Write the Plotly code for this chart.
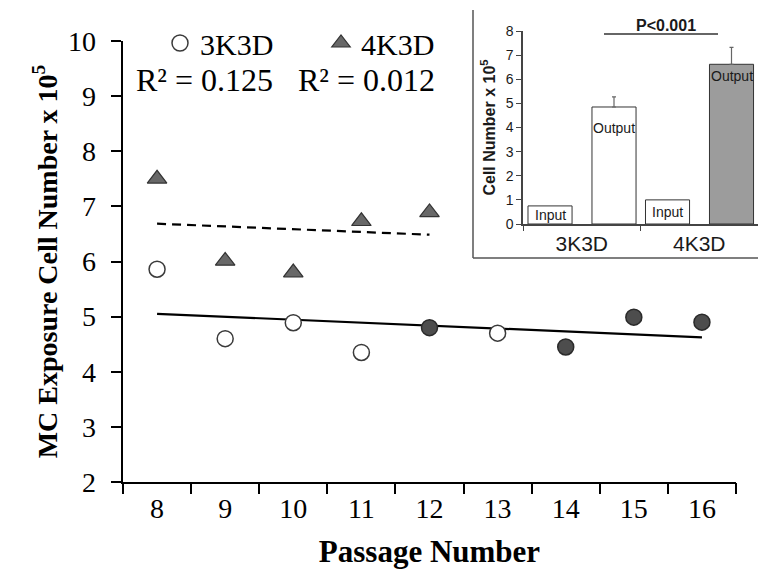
import numpy as np
import plotly.graph_objects as go

# ---------------- data ----------------
passage_3k = [8, 9, 10, 11, 12, 13, 14, 15, 16]
cells_3k = [5.86, 4.60, 4.89, 4.35, 4.80, 4.70, 4.45, 4.99, 4.90]
filled_3k = [False, False, False, False, True, False, True, True, True]

passage_4k = [8, 9, 10, 11, 12]
cells_4k = [7.50, 6.01, 5.80, 6.73, 6.89]

r2_labels = ["R² = 0.125", "R² = 0.012"]

x_ticks = [8, 9, 10, 11, 12, 13, 14, 15, 16]
y_ticks = [2, 3, 4, 5, 6, 7, 8, 9, 10]

inset_groups = ["3K3D", "4K3D"]
inset_input = [0.75, 1.0]
inset_output = [4.85, 6.62]
inset_output_err = [0.42, 0.70]
inset_p_label = "P<0.001"

W, H = 758, 569
SERIF = "Liberation Serif"
SANS = "Liberation Sans"


def px(x):
    return x / W


def py(y):
    return 1 - y / H


fig = go.Figure()

# ---------------- main scatter ----------------
open_x = [x for x, f in zip(passage_3k, filled_3k) if not f]
open_y = [y for y, f in zip(cells_3k, filled_3k) if not f]
full_x = [x for x, f in zip(passage_3k, filled_3k) if f]
full_y = [y for y, f in zip(cells_3k, filled_3k) if f]

# trend lines (least squares fits of the data)
s3, i3 = np.polyfit(passage_3k, cells_3k, 1)
s4, i4 = np.polyfit(passage_4k, cells_4k, 1)
fx3 = [min(passage_3k), max(passage_3k)]
fx4 = [min(passage_4k), max(passage_4k)]

fig.add_trace(go.Scatter(x=fx3, y=[s3 * v + i3 for v in fx3], mode="lines",
                         line=dict(color="black", width=2.2), showlegend=False,
                         xaxis="x", yaxis="y"))
fig.add_trace(go.Scatter(x=fx4, y=[s4 * v + i4 for v in fx4], mode="lines",
                         line=dict(color="black", width=2.2, dash="9px,6px"),
                         showlegend=False, xaxis="x", yaxis="y"))

fig.add_trace(go.Scatter(x=open_x, y=open_y, mode="markers", name="3K3D",
                         marker=dict(symbol="circle", size=16, color="white",
                                     line=dict(color="#3a3a3a", width=1.5)),
                         xaxis="x", yaxis="y"))
fig.add_trace(go.Scatter(x=passage_4k, y=cells_4k, mode="markers", name="4K3D",
                         marker=dict(symbol="triangle-up", size=17, color="#686868",
                                     line=dict(color="#333333", width=1.2)),
                         xaxis="x", yaxis="y"))
fig.add_trace(go.Scatter(x=full_x, y=full_y, mode="markers", name="3K3D filled",
                         showlegend=False,
                         marker=dict(symbol="circle", size=16, color="#4d4d4d",
                                     line=dict(color="#2a2a2a", width=1.5)),
                         xaxis="x", yaxis="y"))
# invisible carrier traces so the overlay axes (tick marks / tick labels) are drawn
fig.add_trace(go.Scatter(x=passage_3k, y=cells_3k, mode="none", showlegend=False,
                         hoverinfo="skip", xaxis="x3", yaxis="y"))
fig.add_trace(go.Scatter(x=passage_3k, y=cells_3k, mode="none", showlegend=False,
                         hoverinfo="skip", xaxis="x", yaxis="y3"))

# ---------------- inset bars ----------------
bar_w = 0.375
fig.add_trace(go.Bar(x=inset_groups, y=inset_input, width=bar_w, offset=-0.4575,
                     marker=dict(color="white", line=dict(color="#333333", width=1)),
                     showlegend=False, xaxis="x2", yaxis="y2"))
fig.add_trace(go.Bar(x=inset_groups, y=inset_output, width=bar_w, offset=0.087,
                     marker=dict(color=["white", "#9c9c9c"],
                                 line=dict(color="#333333", width=1)),
                     error_y=dict(type="data", symmetric=False, array=inset_output_err,
                                  arrayminus=[0, 0], color="#666666", thickness=1.2,
                                  width=2),
                     showlegend=False, xaxis="x2", yaxis="y2"))

annotations = []
for i, g in enumerate(inset_groups):
    annotations.append(dict(x=i - 0.4575 + bar_w / 2, y=inset_input[i] / 2, xref="x2", yref="y2",
                            text="Input", showarrow=False, xanchor="center", yanchor="middle",
                            font=dict(family=SANS, size=14, color="#1a1a1a")))
    annotations.append(dict(x=i + 0.087 + bar_w / 2, y=inset_output[i], xref="x2", yref="y2",
                            text="Output", showarrow=False, yshift=[-21, -12][i],
                            xanchor="center", yanchor="middle",
                            font=dict(family=SANS, size=14, color="#1a1a1a")))

annotations.append(dict(x=px(666), y=py(25), xref="paper", yref="paper",
                        text="<b>%s</b>" % inset_p_label, xanchor="center", yanchor="middle",
                        showarrow=False, font=dict(family=SANS, size=16, color="#1a1a1a")))

# R² labels
annotations.append(dict(x=px(204), y=py(80), xref="paper", yref="paper", text=r2_labels[0],
                        xanchor="center", yanchor="middle",
                        showarrow=False, font=dict(family=SERIF, size=32, color="black")))
annotations.append(dict(x=px(366), y=py(80), xref="paper", yref="paper", text=r2_labels[1],
                        xanchor="center", yanchor="middle",
                        showarrow=False, font=dict(family=SERIF, size=32, color="black")))

shapes = [
    # inset frame (left and bottom)
    dict(type="line", xref="paper", yref="paper", x0=px(473), x1=px(473), y0=py(10), y1=py(258),
         line=dict(color="#555555", width=1.5)),
    dict(type="line", xref="paper", yref="paper", x0=px(473), x1=1.0, y0=py(258), y1=py(258),
         line=dict(color="#555555", width=1.5)),
    # significance bar
    dict(type="line", xref="paper", yref="paper", x0=px(604), x1=px(718), y0=py(34), y1=py(34),
         line=dict(color="#333333", width=1.3)),
]

X_DOM = [px(123), px(736)]
Y_DOM = [py(482), py(41)]
X_RANGE = [7.5, 16.5]
Y_RANGE = [2, 10]
half_ticks = [v - 0.5 for v in x_ticks] + [x_ticks[-1] + 0.5]

fig.update_layout(
    template="none",
    width=W, height=H,
    margin=dict(l=0, r=0, t=0, b=0),
    paper_bgcolor="white", plot_bgcolor="white",
    font=dict(family=SERIF, color="black"),
    barmode="overlay",
    showlegend=True,
    legend=dict(orientation="h", x=px(160), y=py(17), xanchor="left", yanchor="top",
                font=dict(family=SERIF, size=30, color="black"),
                entrywidth=116, entrywidthmode="pixels", bgcolor="rgba(0,0,0,0)",
                itemwidth=30, tracegroupgap=0),
    xaxis=dict(domain=X_DOM, range=X_RANGE, anchor="y", automargin=False,
               tickmode="array", tickvals=x_ticks, ticktext=[str(v) for v in x_ticks],
               ticks="", showline=True, linecolor="black", linewidth=2,
               showgrid=False, zeroline=False,
               tickfont=dict(family=SERIF, size=28, color="black"),
               minor=dict(tickmode="array", tickvals=half_ticks,
                          ticks="outside", ticklen=10, tickwidth=2, tickcolor="black", showgrid=False),
               title=dict(text="<b>Passage Number</b>", font=dict(family=SERIF, size=31, color="black"),
                          standoff=24)),
    xaxis3=dict(domain=X_DOM, range=X_RANGE, anchor="y", overlaying="x", side="bottom",
                automargin=False, tickmode="array", tickvals=half_ticks,
                ticks="outside", ticklen=10, tickwidth=2, tickcolor="black",
                showticklabels=False, showline=False, showgrid=False, zeroline=False),
    # main y axis: line and tick marks only
    yaxis=dict(domain=Y_DOM, range=Y_RANGE, anchor="x", automargin=False,
               tickmode="array", tickvals=y_ticks, showticklabels=False,
               ticks="outside", ticklen=10, tickwidth=2, tickcolor="black",
               showline=True, linecolor="black", linewidth=2,
               showgrid=False, zeroline=False),
    # overlay y axis: tick labels and title
    yaxis3=dict(domain=Y_DOM, range=Y_RANGE, anchor="x", overlaying="y", side="left",
                automargin=False, tickmode="array", tickvals=y_ticks,
                ticks="", showline=False, showgrid=False, zeroline=False,
                ticklabelstandoff=26,
                tickfont=dict(family=SERIF, size=28, color="black"),
                title=dict(text="<b>MC Exposure Cell Number x 10<sup>5</sup></b>",
                           font=dict(family=SERIF, size=28, color="black"), standoff=2)),
    xaxis2=dict(domain=[px(523), 1.0], range=[-0.5, 1.5], anchor="y2", type="category",
                automargin=False, categoryorder="array", categoryarray=inset_groups,
                tickson="boundaries", ticks="outside", ticklen=5, tickwidth=1.2, tickcolor="#444444",
                showline=True, linecolor="#444444", linewidth=1.5, showgrid=False,
                tickfont=dict(family=SANS, size=21, color="#1a1a1a")),
    yaxis2=dict(domain=[py(224), py(31)], range=[0, 8], anchor="x2", dtick=1, automargin=False,
                ticks="outside", ticklen=5, tickwidth=1.2, tickcolor="#444444",
                showline=True, linecolor="#444444", linewidth=1.5, showgrid=False, zeroline=False,
                tickfont=dict(family=SANS, size=14, color="#1a1a1a"),
                title=dict(text="<b>Cell Number x 10<sup>5</sup></b>",
                           font=dict(family=SANS, size=16, color="#1a1a1a"), standoff=6)),
    annotations=annotations,
    shapes=shapes,
)

fig.write_html("out.html")
